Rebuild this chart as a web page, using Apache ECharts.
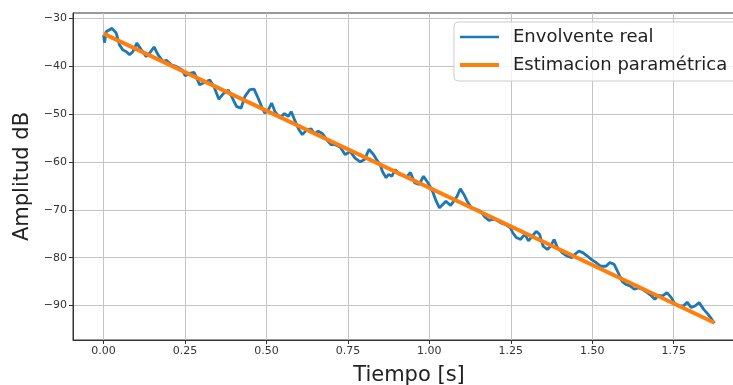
<!DOCTYPE html>
<html>
<head>
<meta charset="utf-8">
<script src="https://cdn.jsdelivr.net/npm/echarts@6/dist/echarts.min.js"></script>
<style>
  html, body { margin: 0; padding: 0; background: #fff; overflow: hidden; }
  #chart { width: 745px; height: 385px; }
</style>
</head>
<body>
<div id="chart"></div>
<script>
// valores
const tiempo = [0, 0.003, 0.008, 0.026, 0.039, 0.049, 0.059, 0.07, 0.08, 0.09, 0.102, 0.116, 0.131, 0.141, 0.155, 0.167, 0.182, 0.193, 0.208, 0.224, 0.241, 0.251, 0.264, 0.278, 0.295, 0.309, 0.326, 0.339, 0.354, 0.367, 0.383, 0.393, 0.408, 0.422, 0.434, 0.449, 0.462, 0.472, 0.485, 0.495, 0.506, 0.516, 0.526, 0.542, 0.555, 0.567, 0.576, 0.588, 0.6, 0.61, 0.624, 0.637, 0.647, 0.659, 0.672, 0.685, 0.698, 0.711, 0.726, 0.742, 0.757, 0.772, 0.788, 0.801, 0.815, 0.829, 0.838, 0.849, 0.856, 0.867, 0.875, 0.885, 0.895, 0.908, 0.921, 0.931, 0.942, 0.955, 0.969, 0.982, 0.996, 1.008, 1.021, 1.031, 1.041, 1.051, 1.065, 1.075, 1.085, 1.095, 1.106, 1.116, 1.129, 1.144, 1.157, 1.17, 1.182, 1.195, 1.203, 1.218, 1.234, 1.249, 1.256, 1.267, 1.28, 1.293, 1.304, 1.316, 1.328, 1.338, 1.349, 1.362, 1.372, 1.383, 1.393, 1.408, 1.424, 1.437, 1.447, 1.459, 1.472, 1.485, 1.498, 1.511, 1.526, 1.542, 1.554, 1.567, 1.58, 1.592, 1.603, 1.616, 1.629, 1.641, 1.654, 1.669, 1.682, 1.692, 1.703, 1.716, 1.729, 1.742, 1.754, 1.767, 1.78, 1.791, 1.803, 1.815, 1.828, 1.842, 1.855, 1.867, 1.875];
const envolvente = [-33.5, -35.1, -32.8, -32.1, -33.1, -35.6, -36.6, -37.0, -37.6, -37.0, -35.2, -36.6, -38.0, -37.3, -36.0, -37.6, -39.0, -38.8, -39.7, -40.1, -40.8, -42.0, -41.5, -41.3, -43.9, -43.4, -42.9, -44.3, -46.9, -45.8, -45.0, -46.3, -48.4, -48.8, -46.3, -44.9, -44.8, -46.3, -48.4, -49.8, -49.1, -47.7, -49.5, -50.8, -49.9, -50.5, -49.5, -51.5, -53.3, -54.3, -53.3, -53.1, -54.1, -53.6, -54.1, -55.4, -56.4, -56.4, -56.9, -58.5, -57.8, -59.2, -60.0, -59.5, -57.4, -58.5, -59.5, -60.6, -62.0, -63.3, -62.6, -63.0, -61.6, -62.6, -62.9, -63.1, -62.2, -64.4, -64.7, -63.0, -64.4, -65.8, -68.2, -69.6, -68.9, -68.2, -69.1, -68.2, -67.2, -65.6, -66.8, -68.2, -69.6, -69.9, -70.3, -71.5, -72.2, -72.0, -72.0, -72.7, -73.1, -73.8, -74.8, -75.8, -76.2, -75.1, -76.5, -75.5, -74.5, -75.1, -77.6, -78.3, -77.6, -76.2, -77.9, -79.0, -79.7, -80.0, -79.3, -78.6, -79.0, -79.7, -80.4, -81.0, -81.8, -81.8, -81.0, -81.4, -83.2, -85.0, -85.6, -85.9, -86.6, -86.3, -86.6, -87.3, -88.0, -88.7, -87.9, -88.0, -87.3, -88.3, -89.7, -90.1, -90.1, -89.3, -90.4, -90.1, -89.4, -90.8, -91.8, -92.9, -93.7];
const tiempoEst = [0, 1.875];
const estimacion = [-33.2, -93.6];
const xTicks = [0, 0.25, 0.5, 0.75, 1.0, 1.25, 1.5, 1.75];
const yTicks = [-90, -80, -70, -60, -50, -40, -30];

const font = 'DejaVu Sans';
const chart = echarts.init(document.getElementById('chart'));

const zip = (a, b) => a.map((v, i) => [v, b[i]]);
const menos = v => (v < 0 ? '\u2212' + Math.abs(v) : String(v));

const option = {
  animation: false,
  textStyle: { fontFamily: font },
  grid: {
    left: 73, top: 13, right: 0, bottom: 45,
    outerBoundsMode: 'none',
    show: true, borderColor: '#333', borderWidth: 1, backgroundColor: 'transparent'
  },
  legend: {
    left: 454, top: 22,
    orient: 'vertical',
    itemWidth: 39, itemHeight: 14, itemGap: 10,
    padding: [6, 10, 7, 6],
    backgroundColor: 'rgba(255,255,255,0.8)',
    borderColor: '#cccccc', borderWidth: 1, borderRadius: 4,
    textStyle: { fontFamily: font, fontSize: 18, color: '#222', padding: [0, 0, 0, 9] },
    data: [
      { name: 'Envolvente real', icon: 'path://M0 0H40V2.6H0Z' },
      { name: 'Estimacion paramétrica', icon: 'path://M0 0H40V4H0Z' }
    ]
  },
  xAxis: {
    type: 'value',
    min: -0.09375, max: 1.96875,
    name: 'Tiempo [s]', nameLocation: 'middle', nameGap: 25,
    nameTextStyle: { fontFamily: font, fontSize: 21, color: '#222' },
    axisLine: { show: true, onZero: false, lineStyle: { color: '#333', width: 1 } },
    axisTick: { show: true, customValues: xTicks, length: 4, lineStyle: { color: '#333' } },
    axisLabel: {
      customValues: xTicks, fontSize: 11, color: '#333', margin: 6,
      formatter: v => v.toFixed(2)
    },
    splitLine: { show: true, lineStyle: { color: '#c4c4c4', width: 1 } }
  },
  yAxis: {
    type: 'value',
    min: -97.2, max: -28.9,
    name: 'Amplitud dB', nameLocation: 'middle', nameGap: 36,
    nameTextStyle: { fontFamily: font, fontSize: 21, color: '#222' },
    axisLine: { show: true, onZero: false, lineStyle: { color: '#333', width: 1 } },
    axisTick: { show: true, customValues: yTicks, length: 4, lineStyle: { color: '#333' } },
    axisLabel: { customValues: yTicks, fontSize: 11, color: '#333', margin: 6, formatter: menos },
    splitLine: { show: true, lineStyle: { color: '#c4c4c4', width: 1 } }
  },
  series: [
    {
      name: 'Envolvente real',
      type: 'line',
      data: zip(tiempo, envolvente),
      symbol: 'none',
      lineStyle: { color: '#1f77b4', width: 2.8 },
      itemStyle: { color: '#1f77b4' },
      z: 2
    },
    {
      name: 'Estimacion paramétrica',
      type: 'line',
      data: zip(tiempoEst, estimacion),
      symbol: 'none',
      lineStyle: { color: '#ff7f0e', width: 4 },
      itemStyle: { color: '#ff7f0e' },
      z: 3
    }
  ]
};

chart.setOption(option);
</script>
</body>
</html>
